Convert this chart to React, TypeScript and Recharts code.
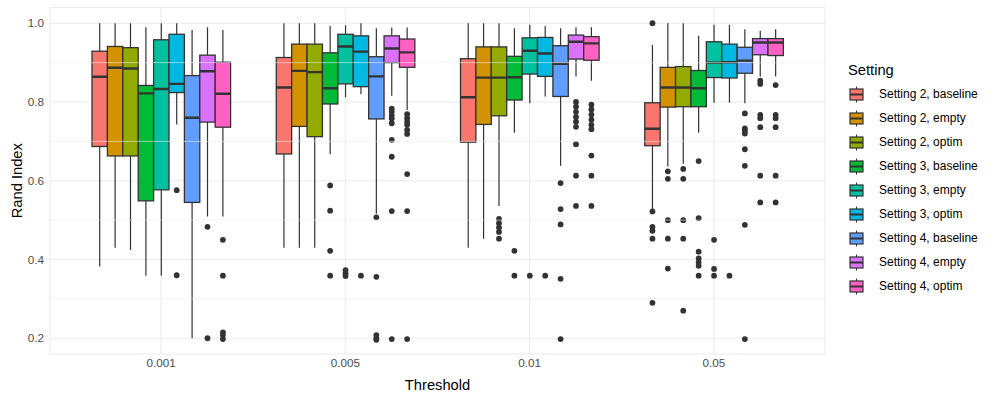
import React from 'react';
import { ComposedChart, Bar, XAxis, YAxis, CartesianGrid, ReferenceLine } from 'recharts';

const thresholds = ['0.001', '0.005', '0.01', '0.05'];

const settings = [
  'Setting 2, baseline', 'Setting 2, empty', 'Setting 2, optim',
  'Setting 3, baseline', 'Setting 3, empty', 'Setting 3, optim',
  'Setting 4, baseline', 'Setting 4, empty', 'Setting 4, optim',
];

const colors = ['#F8766D', '#D39200', '#93AA00', '#00BA38', '#00C19F', '#00B9E3', '#619CFF', '#DB72FB', '#FF61C3'];

// rows = thresholds, columns = settings
const whiskerHigh = [
  [1.0, 1.0, 1.0, 0.990, 1.0, 1.0, 0.983, 0.990, 0.983],
  [1.0, 1.0, 1.0, 0.993, 0.995, 1.0, 0.987, 0.989, 0.989],
  [1.0, 1.0, 1.0, 0.987, 0.996, 0.993, 0.987, 0.990, 0.990],
  [0.945, 1.0, 1.0, 0.968, 0.996, 0.996, 0.985, 0.981, 0.985],
];
const upperQ = [
  [0.929, 0.941, 0.938, 0.842, 0.958, 0.972, 0.867, 0.919, 0.901],
  [0.913, 0.947, 0.947, 0.925, 0.972, 0.968, 0.915, 0.968, 0.960],
  [0.910, 0.940, 0.940, 0.916, 0.963, 0.964, 0.943, 0.970, 0.966],
  [0.798, 0.888, 0.890, 0.880, 0.953, 0.947, 0.939, 0.961, 0.961],
];
const medians = [
  [0.864, 0.887, 0.885, 0.822, 0.833, 0.846, 0.760, 0.878, 0.821],
  [0.837, 0.879, 0.876, 0.835, 0.941, 0.928, 0.865, 0.936, 0.926],
  [0.812, 0.862, 0.862, 0.863, 0.930, 0.923, 0.897, 0.953, 0.949],
  [0.732, 0.837, 0.837, 0.835, 0.900, 0.901, 0.905, 0.951, 0.951],
];
const lowerQ = [
  [0.687, 0.663, 0.663, 0.549, 0.577, 0.824, 0.545, 0.749, 0.736],
  [0.668, 0.738, 0.712, 0.795, 0.846, 0.839, 0.757, 0.900, 0.888],
  [0.698, 0.743, 0.765, 0.805, 0.871, 0.865, 0.814, 0.909, 0.906],
  [0.689, 0.787, 0.788, 0.788, 0.862, 0.861, 0.873, 0.920, 0.918],
];
const whiskerLow = [
  [0.382, 0.430, 0.424, 0.359, 0.359, 0.743, 0.200, 0.509, 0.509],
  [0.430, 0.430, 0.430, 0.667, 0.812, 0.820, 0.516, 0.816, 0.780],
  [0.430, 0.453, 0.536, 0.722, 0.797, 0.814, 0.638, 0.865, 0.854],
  [0.526, 0.636, 0.643, 0.722, 0.798, 0.798, 0.797, 0.865, 0.865],
];
const outliers = [
  [[], [], [], [], [], [0.576, 0.360], [], [0.483, 0.2], [0.450, 0.359, 0.215, 0.208, 0.198]],
  [[], [], [], [0.588, 0.524, 0.422, 0.359], [0.373, 0.365, 0.358], [0.359],
    [0.507, 0.356, 0.208, 0.200, 0.196],
    [0.783, 0.775, 0.766, 0.758, 0.746, 0.704, 0.661, 0.523, 0.198],
    [0.769, 0.759, 0.750, 0.742, 0.729, 0.719, 0.617, 0.523, 0.198]],
  [[], [], [0.503, 0.492, 0.481, 0.470, 0.453], [0.422, 0.359], [0.359], [0.359],
    [0.594, 0.528, 0.489, 0.351, 0.198],
    [0.800, 0.788, 0.775, 0.762, 0.750, 0.737, 0.693, 0.613, 0.536],
    [0.793, 0.781, 0.768, 0.755, 0.742, 0.731, 0.664, 0.613, 0.536]],
  [[1.0, 0.522, 0.483, 0.473, 0.453, 0.290], [0.624, 0.605, 0.500, 0.453, 0.377],
    [0.630, 0.605, 0.500, 0.453, 0.270], [0.650, 0.505, 0.420, 0.403, 0.393, 0.384, 0.359],
    [0.450, 0.376, 0.359], [0.359], [0.771, 0.733, 0.727, 0.720, 0.680, 0.638, 0.488, 0.198],
    [0.854, 0.846, 0.767, 0.759, 0.736, 0.613, 0.545], [0.843, 0.767, 0.759, 0.736, 0.613, 0.545]],
];

const yTicks = [0.2, 0.4, 0.6, 0.8, 1.0];
const minorTicks = [0.3, 0.5, 0.7, 0.9];

const data = thresholds.map((t, r) => {
  const row: any = { threshold: t };
  settings.forEach((_, i) => {
    const all = [whiskerLow[r][i], whiskerHigh[r][i], ...outliers[r][i]];
    row['range' + i] = [Math.min(...all), Math.max(...all)];
    row['stats' + i] = {
      lo: whiskerLow[r][i], q1: lowerQ[r][i], med: medians[r][i],
      q3: upperQ[r][i], hi: whiskerHigh[r][i], out: outliers[r][i],
    };
  });
  return row;
});

const EDGE = '#333333';

// draws one box from the bar's pixel range (min..max of all values)
function makeBox(i: number) {
  return (props: any) => {
    const { x, y, width, height, payload } = props;
    if (!payload || x == null) return <g />;
    const [a, b] = payload['range' + i];
    const s = payload['stats' + i];
    const top = Math.min(y, y + height);
    const bottom = Math.max(y, y + height);
    const py = (v: number) => (b === a ? bottom : bottom - ((v - a) / (b - a)) * (bottom - top));
    const cx = x + width / 2;
    return (
      <g>
        <line x1={cx} x2={cx} y1={py(s.hi)} y2={py(s.q3)} stroke={EDGE} strokeWidth={1.2} />
        <line x1={cx} x2={cx} y1={py(s.q1)} y2={py(s.lo)} stroke={EDGE} strokeWidth={1.2} />
        <rect x={x} y={py(s.q3)} width={width} height={py(s.q1) - py(s.q3)} fill={colors[i]} stroke={EDGE} strokeWidth={1.3} />
        <line x1={x} x2={x + width} y1={py(s.med)} y2={py(s.med)} stroke={EDGE} strokeWidth={2.4} />
        {s.out.map((v: number, k: number) => (
          <circle key={k} cx={cx} cy={py(v)} r={2.9} fill={EDGE} />
        ))}
      </g>
    );
  };
}

function LegendKey({ color }: { color: string }) {
  return (
    <svg width={17} height={17} style={{ display: 'block' }}>
      <line x1={8.5} x2={8.5} y1={0.5} y2={16.5} stroke={EDGE} strokeWidth={1.1} />
      <rect x={2} y={3} width={13} height={11} fill={color} stroke={EDGE} strokeWidth={1.2} />
      <line x1={2} x2={15} y1={8.5} y2={8.5} stroke={EDGE} strokeWidth={2} />
    </svg>
  );
}

export default function App() {
  const font = '"Liberation Sans", Arial, Helvetica, sans-serif';
  return (
    <div style={{ position: 'absolute', left: 0, top: 0, width: 997, height: 399, background: '#fff', fontFamily: font }}>
      <ComposedChart
        width={997}
        height={399}
        data={data}
        margin={{ top: 7.5, right: 172, left: 0, bottom: 0 }}
        barGap={0}
        barSize={15.4}
      >
        {minorTicks.map((v) => (
          <ReferenceLine key={v} y={v} stroke="#EBEBEB" strokeWidth={0.6} ifOverflow="hidden" />
        ))}
        <CartesianGrid stroke="#EBEBEB" strokeWidth={1.1} />
        <XAxis
          dataKey="threshold"
          padding={{ left: 19, right: 19 }}
          axisLine={false}
          tickLine={false}
          tickSize={4}
          tickMargin={1}
          height={45}
          tick={{ fill: '#4D4D4D', fontSize: 11.7, fontFamily: font }}
          label={{ value: 'Threshold', position: 'insideBottom', offset: 9, fill: '#000', fontSize: 14.7, fontFamily: font }}
        />
        <YAxis
          type="number"
          domain={[0.16, 1.04]}
          ticks={yTicks}
          tickFormatter={(v: number) => v.toFixed(1)}
          axisLine={false}
          tickLine={false}
          tickSize={4}
          tickMargin={2}
          width={50}
          allowDataOverflow
          tick={{ fill: '#4D4D4D', fontSize: 11.7, fontFamily: font }}
          label={{ value: 'Rand Index', angle: -90, position: 'center', dx: -8, fill: '#000', fontSize: 14.7, fontFamily: font }}
        />
        {settings.map((name, i) => (
          <Bar
            key={name}
            name={name}
            dataKey={(d: any) => d['range' + i]}
            fill={colors[i]}
            shape={makeBox(i)}
            activeBar={false}
            isAnimationActive={false}
          />
        ))}
      </ComposedChart>
      <div style={{ position: 'absolute', left: 848, top: 60 }}>
        <div style={{ fontSize: 14.7, color: '#000', height: 22, lineHeight: '20px' }}>Setting</div>
        {settings.map((name, i) => (
          <div key={name} style={{ display: 'flex', alignItems: 'center', height: 24 }}>
            <LegendKey color={colors[i]} />
            <span style={{ marginLeft: 14, fontSize: 12, color: '#000' }}>{name}</span>
          </div>
        ))}
      </div>
    </div>
  );
}
